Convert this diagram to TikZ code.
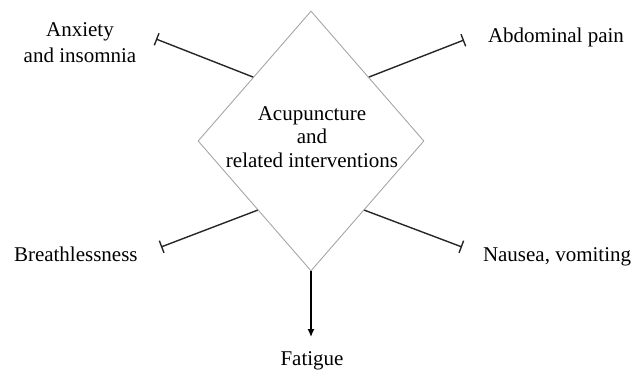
\documentclass[tikz,border=0pt]{standalone}
\usepackage{fontspec}
\setmainfont{Liberation Serif}
\usetikzlibrary{shapes.geometric,arrows.meta,calc}
\tikzset{
  lbl/.style={inner sep=0pt, outer sep=0pt, align=center, font=\fontsize{21}{26}\selectfont, text=black},
  dia/.style={shape=diamond, draw=black!35, line width=0.9pt, inner sep=0pt, minimum width=226pt, minimum height=260pt},
  inhib/.style={draw=black!85, line width=1.4pt, -{Bar[width=13pt,line width=1.4pt]}},
  act/.style={draw=black, line width=1.4pt, -{Latex[length=8pt,width=7pt]}}
}
\begin{document}
\begin{tikzpicture}[x=1pt,y=-1pt]
\useasboundingbox (0,0) rectangle (639,369);
\node[dia] (dia) at (311,141) {};
\node[lbl, font=\fontsize{21}{23.5}\selectfont, anchor=base] (ctr) at (312,167) {Acupuncture\\and\\related interventions};
\node[lbl, anchor=base] (anx) at (80,63) {Anxiety\\and insomnia};
\node[lbl, anchor=base west] (abd) at (488,43) {Abdominal pain};
\node[lbl, anchor=base west] (bre) at (14,261) {Breathlessness};
\node[lbl, anchor=base west] (nau) at (483,261) {Nausea, vomiting};
\node[lbl, anchor=base] (fat) at (312,365) {Fatigue};
\coordinate (anxEnd) at (156,39);
\coordinate (abdEnd) at (464,40);
\coordinate (breEnd) at (161,247);
\coordinate (nauEnd) at (462,247);
\coordinate (fatEnd) at (311,337);
\draw[inhib] ($(dia.north)!0.51!(dia.west)$) -- (anxEnd);
\draw[inhib] ($(dia.north)!0.51!(dia.east)$) -- (abdEnd);
\draw[inhib] ($(dia.south)!0.47!(dia.west)$) -- (breEnd);
\draw[inhib] ($(dia.south)!0.47!(dia.east)$) -- (nauEnd);
\draw[act] (dia.south) -- (fatEnd);
\end{tikzpicture}
\end{document}
